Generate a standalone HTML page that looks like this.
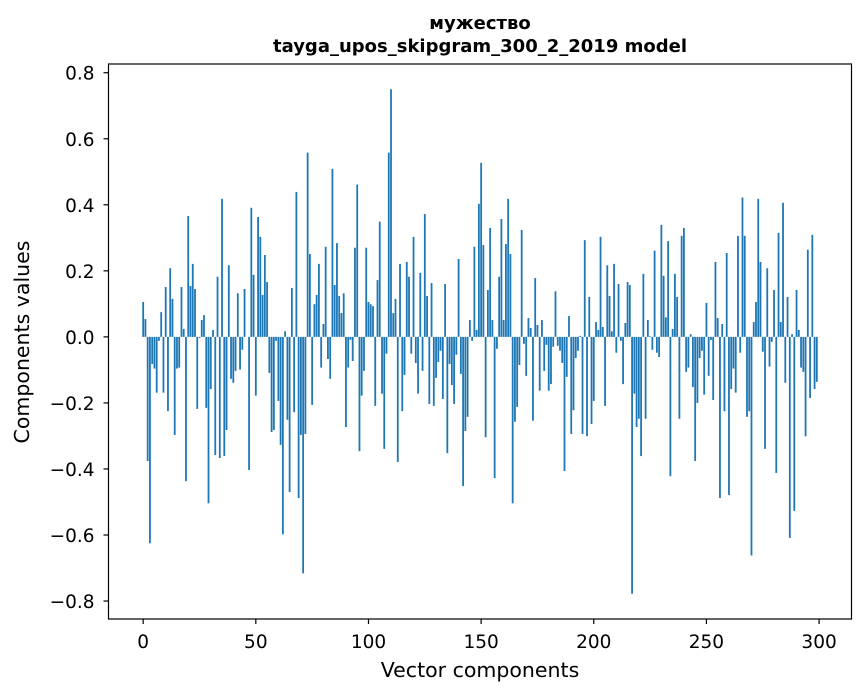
<!DOCTYPE html>
<html><head><meta charset="utf-8"><style>
body{margin:0;background:#fff;}
svg{display:block;font-family:"DejaVu Sans","Liberation Sans",sans-serif;}
</style></head><body>
<svg id="chart" width="867" height="696" viewBox="0 0 867 696">
<rect x="0" y="0" width="867" height="696" fill="#fff"/>
<text x="480" y="29" text-anchor="middle" font-family="DejaVu Sans, sans-serif" font-weight="bold" font-size="18">мужество</text>
<text x="480" y="52" text-anchor="middle" font-family="DejaVu Sans, sans-serif" font-weight="bold" font-size="18">tayga_upos_skipgram_300_2_2019 model</text>
<g id="bars"></g>
<g id="axes"></g>
<text x="480" y="677" text-anchor="middle" font-size="20.5">Vector components</text>
<text transform="translate(29,342) rotate(-90)" text-anchor="middle" font-size="20.5">Components values</text>
</svg>
<script>
const values = [0.106,0.054,-0.376,-0.625,-0.082,-0.096,-0.169,-0.012,0.075,-0.169,0.151,-0.225,0.208,0.115,-0.297,-0.096,-0.093,0.151,0.024,-0.437,0.366,0.154,0.221,0.145,-0.218,-0.003,0.051,0.066,-0.215,-0.504,-0.158,0.021,-0.358,0.182,-0.367,0.418,-0.361,-0.282,0.217,-0.127,-0.139,-0.103,0.132,-0.099,-0.039,0.145,0.0,-0.403,0.391,0.188,
-0.178,0.363,0.303,0.127,0.248,0.166,-0.109,-0.288,-0.282,-0.012,-0.194,-0.327,-0.598,0.017,-0.251,-0.470,0.148,-0.228,0.439,-0.488,-0.297,-0.716,-0.294,0.558,0.251,-0.206,0.099,0.127,0.221,-0.093,0.039,0.273,-0.067,-0.127,0.509,0.157,0.284,0.124,0.072,0.132,-0.273,-0.093,-0.009,-0.073,0.270,0.461,-0.346,-0.178,-0.103,0.270,
0.106,0.099,0.093,-0.209,0.172,0.349,-0.172,-0.339,-0.051,0.558,0.750,0.072,0.115,-0.379,0.221,-0.225,-0.115,0.227,0.182,-0.051,0.303,-0.079,-0.172,0.194,-0.103,0.372,0.124,-0.203,0.163,-0.209,-0.124,-0.076,-0.042,-0.188,0.160,-0.352,-0.082,-0.146,-0.203,-0.054,0.236,-0.112,-0.452,-0.285,-0.242,0.051,-0.012,0.273,0.021,0.403,
0.527,0.278,-0.304,0.142,0.330,0.051,-0.428,-0.036,0.182,0.357,0.051,0.281,0.418,0.251,-0.504,-0.257,-0.212,-0.085,0.324,-0.021,-0.118,0.057,0.027,-0.254,0.178,0.036,-0.163,0.051,-0.103,-0.024,-0.163,-0.143,-0.030,0.138,-0.027,-0.042,-0.079,-0.406,-0.121,0.063,-0.294,-0.222,-0.064,-0.042,0.003,-0.294,0.293,-0.301,0.121,-0.264,
-0.194,0.045,0.021,0.303,0.030,-0.209,0.217,0.124,0.017,0.221,-0.048,0.160,-0.012,-0.143,0.042,0.166,0.157,-0.778,-0.172,-0.273,-0.248,-0.361,0.191,-0.248,0.051,0.002,-0.039,0.261,-0.048,-0.061,0.339,0.185,0.059,0.290,-0.422,0.024,0.191,0.121,-0.248,0.306,0.330,-0.106,-0.093,0.008,-0.152,-0.376,-0.200,-0.064,-0.042,-0.175,
0.103,-0.118,-0.009,-0.191,0.227,0.057,-0.488,0.039,-0.225,0.254,-0.479,-0.158,-0.096,-0.169,0.306,-0.048,0.422,0.306,-0.242,-0.225,-0.662,0.045,0.106,0.418,0.227,-0.045,-0.339,0.208,-0.090,-0.015,0.142,-0.412,0.315,0.045,0.406,-0.139,0.121,-0.609,0.008,-0.527,0.142,0.021,-0.093,-0.106,-0.301,0.264,-0.185,0.309,-0.158,-0.136];
const xTicks = [0,50,100,150,200,250,300];
const yTicks = [-0.8,-0.6,-0.4,-0.2,0.0,0.2,0.4,0.6,0.8];
const yTickLabels = ["\u22120.8","\u22120.6","\u22120.4","\u22120.2","0.0","0.2","0.4","0.6","0.8"];

const NS="http://www.w3.org/2000/svg";
const L=108.5,R=851.5,T=64,B=619;
const n=values.length;
const xmin=-0.4-0.05*(n-1+0.8), xmax=(n-1)+0.4+0.05*(n-1+0.8);
const vmin=Math.min(...values), vmax=Math.max(...values), vr=vmax-vmin;
const ymin=vmin-0.05*vr, ymax=vmax+0.05*vr;
const xs=v=>L+(v-xmin)/(xmax-xmin)*(R-L);
const ys=v=>B-(v-ymin)/(ymax-ymin)*(B-T);
function mk(tag,attrs,parent){const e=document.createElementNS(NS,tag);for(const k in attrs)e.setAttribute(k,attrs[k]);parent.appendChild(e);return e;}
const bars=document.getElementById('bars');
values.forEach((v,i)=>{
  const x0=xs(i-0.4),x1=xs(i+0.4),y0=ys(0),y1=ys(v);
  const r=mk('rect',{x:x0,y:Math.min(y0,y1),width:x1-x0,height:Math.abs(y1-y0),fill:'#1f77b4'},bars);
  
  
});
const ax=document.getElementById('axes');
const frame=mk('rect',{x:L,y:T,width:R-L,height:B-T,fill:'none',stroke:'#000','stroke-width':1.2},ax);


xTicks.forEach(t=>{
  const x=xs(t);
  const ln=mk('line',{x1:x,x2:x,y1:B,y2:B+5,stroke:'#000','stroke-width':1.2},ax);
  
  
  const tx=mk('text',{x:x,y:B+29,'text-anchor':'middle','font-size':18.5},ax);
  
  
  tx.textContent=String(t);
});
yTicks.forEach((t,i)=>{
  const y=ys(t);
  const ln=mk('line',{x1:L-5,x2:L,y1:y,y2:y,stroke:'#000','stroke-width':1.2},ax);
  
  
  const tx=mk('text',{x:L-14,y:y+7,'text-anchor':'end','font-size':18.5},ax);
  
  
  tx.textContent=yTickLabels[i];
});
</script>
</body></html>
